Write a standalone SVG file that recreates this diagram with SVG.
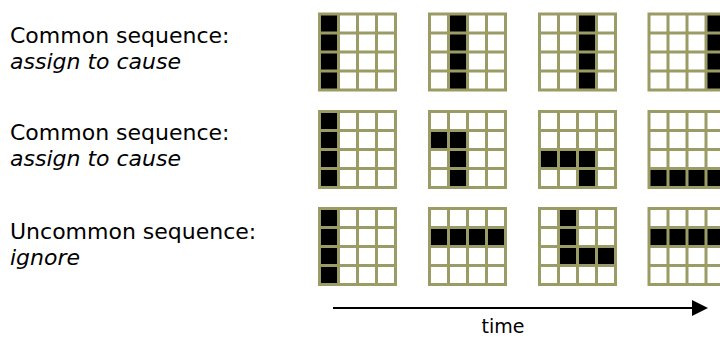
<svg xmlns="http://www.w3.org/2000/svg" xmlns:xlink="http://www.w3.org/1999/xlink" width="720" height="337" viewBox="0 0 720 337">
<style>
  .lbl { font-family: "DejaVu Sans", Verdana, sans-serif; font-size: 22px; fill: #000; }
  .it { font-style: italic; }
  .on { fill: #000; }
  .gl { fill: none; stroke: #9b9b66; stroke-width: 3; stroke-linecap: square; }
  .axis { stroke: #000; stroke-width: 2; fill: none; }
</style>
<defs>
  <path id="grid" class="gl" d="M0 0H76M0 19H76M0 38H76M0 57H76M0 76H76M0 0V76M19 0V76M38 0V76M57 0V76M76 0V76"/>
  <marker id="ah" markerUnits="userSpaceOnUse" markerWidth="16" markerHeight="16" refX="0" refY="8" orient="auto">
    <path d="M0 0L16 8L0 16Z" fill="#000"/>
  </marker>
</defs>
<rect width="720" height="337" fill="#fff"/>

<g id="labels">
  <text class="lbl" x="10" y="43">Common sequence:</text>
  <text class="lbl it" x="10" y="69">assign to cause</text>
  <text class="lbl" x="10" y="140">Common sequence:</text>
  <text class="lbl it" x="10" y="166">assign to cause</text>
  <text class="lbl" x="10" y="239">Uncommon sequence:</text>
  <text class="lbl it" x="10" y="265">ignore</text>
</g>

<!-- Row 1 -->
<g id="r1g1" transform="translate(319.5,14)"><rect class="on" x="0" y="0" width="19" height="76"/><use xlink:href="#grid"/></g>
<g id="r1g2" transform="translate(429.5,14)"><rect class="on" x="19" y="0" width="19" height="76"/><use xlink:href="#grid"/></g>
<g id="r1g3" transform="translate(539.5,14)"><rect class="on" x="38" y="0" width="19" height="76"/><use xlink:href="#grid"/></g>
<g id="r1g4" transform="translate(649,14)"><rect class="on" x="57" y="0" width="19" height="76"/><use xlink:href="#grid"/></g>

<!-- Row 2 -->
<g id="r2g1" transform="translate(319.5,111.5)"><rect class="on" x="0" y="0" width="19" height="76"/><use xlink:href="#grid"/></g>
<g id="r2g2" transform="translate(429.5,111.5)"><rect class="on" x="0" y="19" width="38" height="19"/><rect class="on" x="19" y="38" width="19" height="38"/><use xlink:href="#grid"/></g>
<g id="r2g3" transform="translate(539.5,111.5)"><rect class="on" x="0" y="38" width="57" height="19"/><rect class="on" x="38" y="57" width="19" height="19"/><use xlink:href="#grid"/></g>
<g id="r2g4" transform="translate(649,111.5)"><rect class="on" x="0" y="57" width="76" height="19"/><use xlink:href="#grid"/></g>

<!-- Row 3 -->
<g id="r3g1" transform="translate(319.5,208.5)"><rect class="on" x="0" y="0" width="19" height="76"/><use xlink:href="#grid"/></g>
<g id="r3g2" transform="translate(429.5,208.5)"><rect class="on" x="0" y="19" width="76" height="19"/><use xlink:href="#grid"/></g>
<g id="r3g3" transform="translate(539.5,208.5)"><rect class="on" x="19" y="0" width="19" height="57"/><rect class="on" x="38" y="38" width="38" height="19"/><use xlink:href="#grid"/></g>
<g id="r3g4" transform="translate(649,208.5)"><rect class="on" x="0" y="19" width="76" height="19"/><use xlink:href="#grid"/></g>

<g id="connectors">
  <line class="axis" x1="333" y1="308" x2="692" y2="308" marker-end="url(#ah)"/>
</g>
<g id="time-label">
  <text class="lbl" x="503" y="333" text-anchor="middle" style="font-size:19px">time</text>
</g>
</svg>
